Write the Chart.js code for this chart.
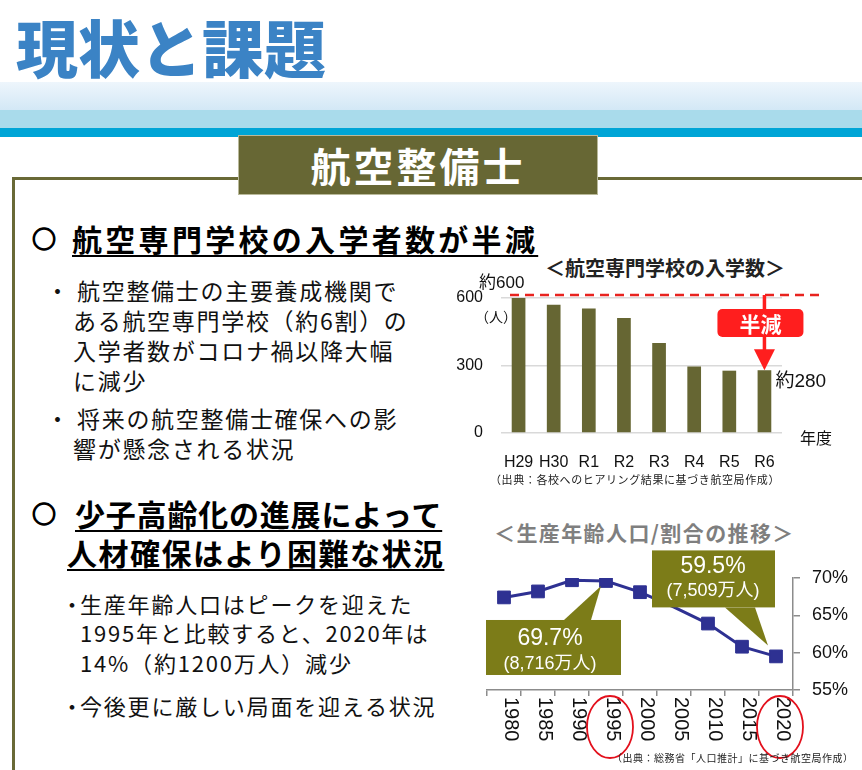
<!DOCTYPE html>
<html lang="ja">
<head>
<meta charset="utf-8">
<script src="https://cdn.jsdelivr.net/npm/chart.js@4.4.0/dist/chart.umd.min.js"></script>
<style>
  html, body { margin: 0; padding: 0; background: #fff; }
  #page { position: relative; width: 862px; height: 770px; overflow: hidden; font-family: "Noto Sans CJK JP", "Noto Sans", sans-serif; color: #111; }
  .abs { position: absolute; white-space: nowrap; }
  #title { left: 16px; top: 8px; font-size: 62px; line-height: 76px; font-weight: 900; color: #3b83c5; }
  #band1 { left: 0; top: 82px; width: 862px; height: 28px; background: linear-gradient(#eef6fc, #d3e8f6); }
  #band2 { left: 0; top: 110px; width: 862px; height: 18px; background: #a9dbeb; }
  #band3 { left: 0; top: 128px; width: 862px; height: 9px; background: #00a5d6; }
  #frameH { left: 12px; top: 177px; width: 850px; height: 3px; background: #696936; }
  #frameV { left: 12px; top: 177px; width: 3px; height: 600px; background: #696936; }
  #tag { left: 238px; top: 135px; width: 358px; height: 58px; background: #676734; border: 1px solid #b9b99a; color: #fff; font-size: 40px; font-weight: 700; line-height: 58px; text-align: center; letter-spacing: 3px; }
  .h { font-size: 30px; font-weight: 700; line-height: 36px; color: #000; }
  .mark { font-size: 24px; font-weight: 900; line-height: 36px; color: #000; -webkit-text-stroke: 1.3px #000; }
  .u { text-decoration: underline; text-decoration-thickness: 2px; text-underline-offset: 4px; }
  .b1 { font-size: 23px; line-height: 30px; letter-spacing: 1.7px; }
  .b2 { font-size: 22px; line-height: 30px; letter-spacing: 1.8px; }
  #barTitle { left: 520px; top: 254px; width: 290px; text-align: center; font-size: 20px; line-height: 28px; font-weight: 700; color: #222; }
  #barSrc { left: 470px; top: 471px; width: 330px; text-align: center; font-size: 11px; line-height: 16px; letter-spacing: 0.6px; color: #222; }
  #lineTitle { left: 494px; top: 517px; font-size: 21px; line-height: 30px; font-weight: 700; letter-spacing: 1.4px; color: #7f7f7f; }
  #lineSrc { left: 612px; top: 750px; font-size: 10px; line-height: 16px; letter-spacing: 0.5px; color: #222; }
  canvas { position: absolute; }
</style>
</head>
<body>
<div id="page">
  <div class="abs" id="title">現状と課題</div>
  <div class="abs" id="band1"></div>
  <div class="abs" id="band2"></div>
  <div class="abs" id="band3"></div>
  <div class="abs" id="frameH"></div>
  <div class="abs" id="frameV"></div>
  <div class="abs" id="tag">航空整備士</div>

  <div class="abs mark" style="left:32px; top:220px;">○</div>
  <div class="abs h u" style="left:72px; top:220px; letter-spacing:3.3px;">航空専門学校の入学者数が半減</div>

  <div class="abs b1" style="left:46px; top:275px;">・</div>
  <div class="abs b1" style="left:77px; top:275px;">航空整備士の主要養成機関で</div>
  <div class="abs b1" style="left:73px; top:305px;">ある航空専門学校（約6割）の</div>
  <div class="abs b1" style="left:73px; top:335px;">入学者数がコロナ禍以降大幅</div>
  <div class="abs b1" style="left:73px; top:365px;">に減少</div>
  <div class="abs b1" style="left:46px; top:403px;">・</div>
  <div class="abs b1" style="left:77px; top:403px;">将来の航空整備士確保への影</div>
  <div class="abs b1" style="left:73px; top:433px;">響が懸念される状況</div>

  <div class="abs mark" style="left:32px; top:495px;">○</div>
  <div class="abs h u" style="left:75px; top:495px; letter-spacing:0.8px;">少子高齢化の進展によって</div>
  <div class="abs h u" style="left:67px; top:534px; letter-spacing:1.5px;">人材確保はより困難な状況</div>

  <div class="abs b2" style="left:61px; top:588px;">・</div>
  <div class="abs b2" style="left:80px; top:588px;">生産年齢人口はピークを迎えた</div>
  <div class="abs b2" style="left:80px; top:617px;">1995年と比較すると、2020年は</div>
  <div class="abs b2" style="left:80px; top:647px;">14%（約1200万人）減少</div>
  <div class="abs b2" style="left:61px; top:690px;">・</div>
  <div class="abs b2" style="left:80px; top:690px;">今後更に厳しい局面を迎える状況</div>

  <div class="abs" id="barTitle">＜航空専門学校の入学数＞</div>
  <canvas id="barChart" width="422" height="240" style="left:440px; top:250px; width:422px; height:240px;"></canvas>
  <div class="abs" id="barSrc">（出典：各校へのヒアリング結果に基づき航空局作成）</div>

  <div class="abs" id="lineTitle">＜生産年齢人口/割合の推移＞</div>
  <canvas id="lineChart" width="392" height="225" style="left:470px; top:545px; width:392px; height:225px;"></canvas>
  <div class="abs" id="lineSrc">（出典：総務省「人口推計」に基づき航空局作成）</div>
</div>

<script>
// 航空専門学校の入学数（人）
const schoolYears = ['H29', 'H30', 'R1', 'R2', 'R3', 'R4', 'R5', 'R6'];
const entrants = [600, 570, 553, 511, 400, 296, 277, 279];
const entrantTicks = [0, 300, 600];

// 生産年齢人口の割合（%）
const popYears = ['1980', '1985', '1990', '1995', '2000', '2005', '2010', '2015', '2020'];
const workingShare = [67.4, 68.2, 69.7, 69.6, 68.1, 66.1, 63.9, 60.8, 59.5];
const shareTicks = [55, 60, 65, 70];
const circledYears = ['1995', '2020'];
const calloutYears = ['1995', '2020'];
const calloutRates = ['69.7%', '59.5%'];
const calloutPeople = ['(8,716万人)', '(7,509万人)'];

const latin = '"Liberation Sans", "Noto Sans CJK JP", sans-serif';
const cjk = '"Noto Sans CJK JP", sans-serif';

// 棒グラフの注記（点線、矢印、半減）
const barNotes = {
    id: 'barNotes',
    afterDraw(chart) {
        const ctx = chart.ctx;
        const x = chart.scales.x, y = chart.scales.y, area = chart.chartArea;
        const top = y.getPixelForValue(entrants[0]) - 3;
        const ax = x.getPixelForValue(schoolYears.length - 1);
        const tipY = y.getPixelForValue(entrants[entrants.length - 1]);
        ctx.save();
        ctx.strokeStyle = '#e8231f';
        ctx.lineWidth = 2.5;
        ctx.setLineDash([9, 6]);
        ctx.beginPath();
        ctx.moveTo(area.left + 9, top);
        ctx.lineTo(area.right + 40, top);
        ctx.stroke();
        ctx.setLineDash([]);

        ctx.strokeStyle = '#ff1e1e';
        ctx.fillStyle = '#ff1e1e';
        ctx.lineWidth = 3.5;
        ctx.beginPath();
        ctx.moveTo(ax, top);
        ctx.lineTo(ax, tipY - 18);
        ctx.stroke();
        ctx.beginPath();
        ctx.moveTo(ax - 10.5, tipY - 21);
        ctx.lineTo(ax + 10.5, tipY - 21);
        ctx.lineTo(ax, tipY);
        ctx.closePath();
        ctx.fill();

        ctx.beginPath();
        ctx.roundRect(ax - 47, top + 14, 86, 28, 5);
        ctx.fill();
        ctx.fillStyle = '#fff';
        ctx.font = 'bold 21px ' + cjk;
        ctx.textAlign = 'center';
        ctx.textBaseline = 'middle';
        ctx.fillText('半減', ax - 4, top + 29);

        ctx.fillStyle = '#111';
        ctx.textAlign = 'left';
        ctx.font = '17px ' + latin;
        ctx.fillText('約600', area.left - 22, top - 12);
        ctx.font = '14px ' + cjk;
        ctx.fillText('（人）', area.left - 26, top + 22);
        ctx.font = '19px ' + latin;
        ctx.fillText('約280', ax + 11, tipY + 12);
        ctx.font = '16px ' + cjk;
        ctx.fillText('年度', area.right + 18, area.bottom + 5);
        ctx.restore();
    }
};

function drawCallout(ctx, px, py, box, tail, tip, rate, people, tx, ty) {
    ctx.fillStyle = '#7c7c18';
    ctx.fillRect(px + box[0], py + box[1], box[2] - box[0], box[3] - box[1]);
    ctx.beginPath();
    ctx.moveTo(px + tail[0], py + tail[2]);
    ctx.lineTo(px + tip[0], py + tip[1]);
    ctx.lineTo(px + tail[1], py + tail[2]);
    ctx.closePath();
    ctx.fill();
    ctx.fillStyle = '#fff';
    ctx.textAlign = 'center';
    ctx.textBaseline = 'middle';
    ctx.font = '23px ' + latin;
    ctx.fillText(rate, px + tx, py + ty);
    ctx.font = '18px ' + latin;
    ctx.fillText(people, px + tx, py + ty + 25);
}

// 折れ線グラフの注記（吹き出し、縦書きの年ラベル、赤丸）
const lineNotes = {
    id: 'lineNotes',
    afterDraw(chart) {
        const ctx = chart.ctx;
        const x = chart.scales.x, y = chart.scales.y;
        ctx.save();
        // 吹き出し
        let i = popYears.indexOf(calloutYears[0]);
        let px = x.getPixelForValue(i), py = y.getPixelForValue(workingShare[i]);
        drawCallout(ctx, px, py, [-120, 39, 15, 94], [-42, -15, 39], [-5, 5],
            calloutRates[0], calloutPeople[0], -56, 58);
        i = popYears.indexOf(calloutYears[1]);
        px = x.getPixelForValue(i); py = y.getPixelForValue(workingShare[i]);
        drawCallout(ctx, px, py, [-124, -106, -1, -49], [-51, -21, -49], [-8, -11],
            calloutRates[1], calloutPeople[1], -63, -90);

        // 年ラベル（右回りに回転）
        ctx.fillStyle = '#111';
        ctx.font = '20px ' + latin;
        ctx.textAlign = 'left';
        ctx.textBaseline = 'middle';
        popYears.forEach((yr, k) => {
            ctx.save();
            ctx.translate(x.getPixelForValue(k) + 7, x.top + 7);
            ctx.rotate(Math.PI / 2);
            ctx.fillText(yr, 0, 0);
            ctx.restore();
        });

        // 赤丸
        ctx.strokeStyle = '#e3101c';
        ctx.lineWidth = 1.8;
        circledYears.forEach(yr => {
            const k = popYears.indexOf(yr);
            ctx.beginPath();
            ctx.ellipse(x.getPixelForValue(k) + 4, x.top + 37, 23, 31, 0, 0, Math.PI * 2);
            ctx.stroke();
        });
        ctx.restore();
    }
};

window.onload = function() {
    new Chart(document.getElementById('barChart'), {
        type: 'bar',
        data: {
            labels: schoolYears,
            datasets: [{
                data: entrants,
                backgroundColor: '#666633',
                barPercentage: 0.39,
                categoryPercentage: 1.0
            }]
        },
        options: {
            responsive: false,
            animation: false,
            layout: { padding: { left: 0, top: 48, right: 80, bottom: 0 } },
            plugins: { legend: { display: false }, tooltip: { enabled: false } },
            scales: {
                x: {
                    grid: { display: false },
                    border: { display: false },
                    ticks: { color: '#111', font: { size: 16, family: latin }, padding: 12, maxRotation: 0, autoSkip: false },
                    afterFit: s => { s.height = 57; }
                },
                y: {
                    min: 0,
                    max: 600,
                    afterBuildTicks: s => { s.ticks = entrantTicks.map(v => ({ value: v })); },
                    grid: { color: '#d9d9d9', lineWidth: 1.5, drawTicks: false },
                    border: { display: false },
                    ticks: { color: '#111', font: { size: 16, family: latin }, padding: 18 },
                    afterFit: s => { s.width = 61; }
                }
            }
        },
        plugins: [barNotes]
    });

    new Chart(document.getElementById('lineChart'), {
        type: 'line',
        data: {
            labels: popYears,
            datasets: [{
                data: workingShare,
                borderColor: '#2e3192',
                backgroundColor: '#2e3192',
                borderWidth: 3,
                pointStyle: 'rect',
                pointRadius: popYears.map(yr => yr === '2005' ? 0 : 9),
                pointBorderWidth: 1,
                tension: 0
            }]
        },
        options: {
            responsive: false,
            animation: false,
            layout: { padding: { left: 17, top: 33, right: 0, bottom: 0 } },
            plugins: { legend: { display: false }, tooltip: { enabled: false } },
            scales: {
                x: {
                    offset: true,
                    grid: { offset: true, drawOnChartArea: false, drawTicks: true, tickLength: 6, color: '#8c8c8c', lineWidth: 1.5 },
                    border: { color: '#8c8c8c', width: 1.5 },
                    ticks: { display: false },
                    afterFit: s => { s.height = 80; }
                },
                y: {
                    position: 'right',
                    min: 55,
                    max: 70,
                    afterBuildTicks: s => { s.ticks = shareTicks.map(v => ({ value: v })); },
                    grid: { drawOnChartArea: false, tickLength: 7, color: '#8c8c8c', lineWidth: 1.5 },
                    border: { color: '#8c8c8c', width: 1.5 },
                    ticks: { color: '#111', font: { size: 18, family: latin }, padding: 12, callback: v => v + '%' },
                    afterFit: s => { s.width = 69; }
                }
            }
        },
        plugins: [lineNotes]
    });
};
</script>
</body>
</html>
